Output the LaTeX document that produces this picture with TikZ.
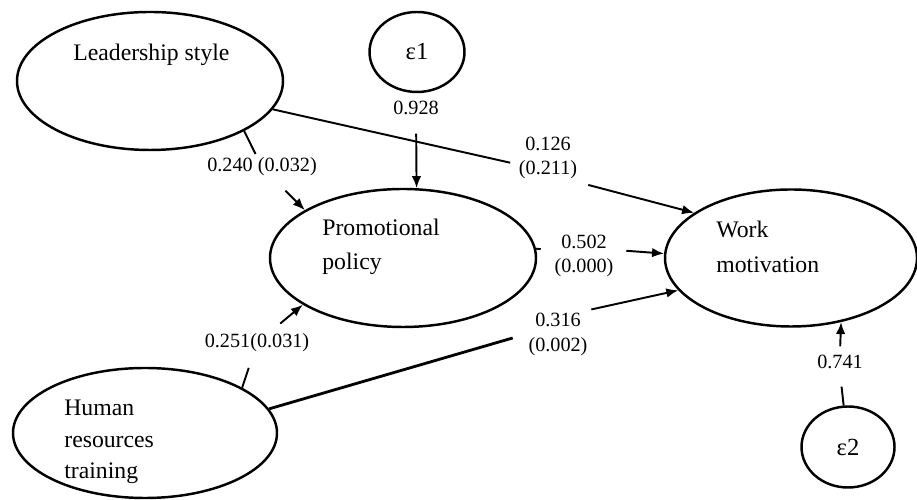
\documentclass[tikz,border=0pt]{standalone}
\usepackage{fontspec}
\setmainfont{Liberation Serif}
\usetikzlibrary{shapes.geometric,arrows.meta}

\begin{document}
\begin{tikzpicture}[
    latent/.style={draw, line width=1.4pt, ellipse, inner sep=0pt},
    vname/.style={font=\fontsize{13.5}{19.5}\selectfont, align=left, anchor=west, inner sep=0pt},
    coef/.style={font=\fontsize{11.5}{14}\selectfont, align=center, inner sep=2pt},
    link/.style={line width=1.1pt},
    >={Latex[length=2.4mm, width=1.9mm]}
]
    \useasboundingbox (0,0) rectangle (18.34,10);
    % latent variables and errors
    \node[latent, minimum width=5.32cm, minimum height=2.76cm] (lead) at (3.00,8.38) {};
    \node[latent, minimum width=5.32cm, minimum height=2.76cm] (promo) at (8.06,4.84) {};
    \node[latent, minimum width=5.04cm, minimum height=2.74cm] (work) at (15.82,4.84) {};
    \node[latent, minimum width=5.28cm, minimum height=2.60cm] (hum) at (2.90,1.34) {};
    \node[latent, minimum width=1.90cm, minimum height=1.60cm, font=\fontsize{14}{16}\selectfont] (eps1) at (8.34,8.96) {ε1};
    \node[latent, minimum width=1.86cm, minimum height=1.62cm, font=\fontsize{14}{16}\selectfont] (eps2) at (16.96,1.06) {ε2};
    % names
    \node[vname] (tlead) at (1.46,8.90) {Leadership style};
    \node[vname] (tpromo) at (6.44,5.06) {Promotional\\policy};
    \node[vname] (twork) at (14.32,5.06) {Work\\motivation};
    \node[vname, font=\fontsize{13.5}{17.8}\selectfont] (thum) at (1.28,1.16) {Human\\resources\\training};
    % coefficients
    \node[coef] (l928) at (8.32,7.84) {0.928};
    \node[coef] (l240) at (5.24,6.66) {0.240 (0.032)};
    \node[coef] (l126) at (10.96,6.84) {0.126\\(0.211)};
    \node[coef] (l502) at (11.68,4.88) {0.502\\(0.000)};
    \node[coef] (l251) at (5.14,3.14) {0.251(0.031)};
    \node[coef] (l316) at (11.16,3.31) {0.316\\(0.002)};
    \node[coef] (l741) at (16.80,2.76) {0.741};
    % paths
    \draw[link, shorten >=0.1cm] (lead.-13) -- (l126.190);
    \draw[link, ->, shorten <=0.15cm] (l126.south east) -- (work.155);
    \draw[link] (lead.-28) -- (l240);
    \draw[link, ->, shorten <=0.3cm] (l240) -- (promo.154);
    \draw[link, ->, shorten <=0.3cm] (l928) -- (promo.79);
    \draw[link, shorten >=0.2cm] (promo.4) -- (l502.170);
    \draw[link, ->, shorten <=0.18cm] (l502.10) -- (work.178);
    \draw[link, shorten >=0.25cm] (hum.25) -- (l251);
    \draw[link, ->, shorten <=0.2cm] (l251) -- (promo.205);
    \draw[line width=1.6pt, shorten >=0.25cm] (hum.11) -- (l316.west);
    \draw[link, ->] (l316.north east) -- (work.196);
    \draw[link, shorten >=0.28cm] (eps2.96) -- (l741.south);
    \draw[link, ->, shorten <=0.1cm] (l741.north) -- (work.-52);
\end{tikzpicture}
\end{document}
